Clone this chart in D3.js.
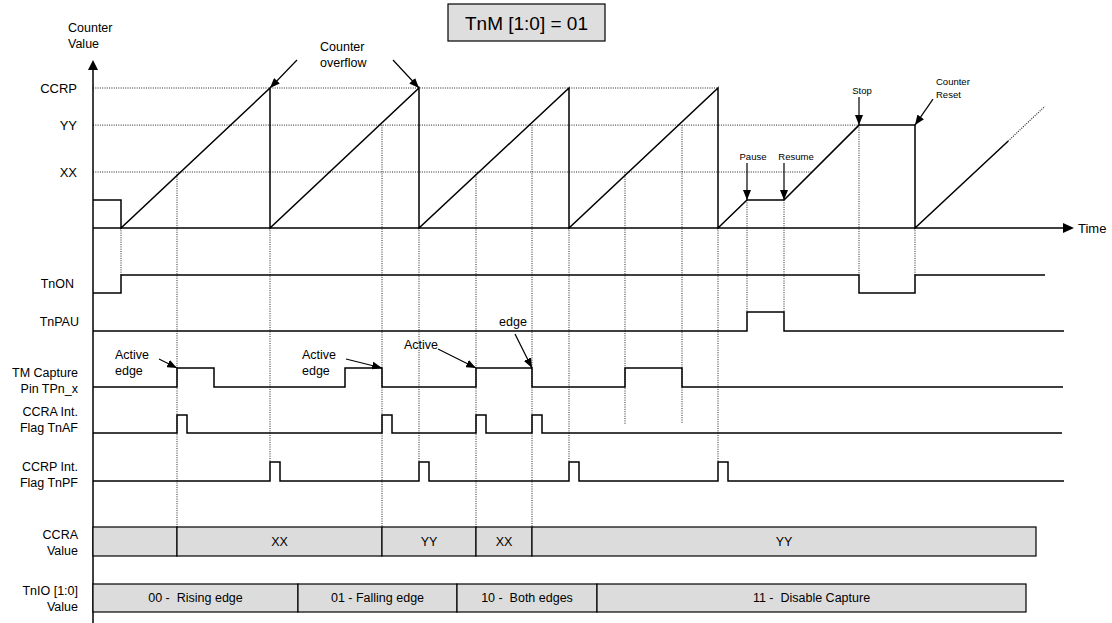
<!DOCTYPE html>
<html><head><meta charset="utf-8">
<script src="https://cdn.jsdelivr.net/npm/d3@7"></script>
<style>
body{margin:0;background:#fff}
svg{display:block}
text{font-family:Arial,"Liberation Sans",sans-serif;fill:#000;white-space:pre}
</style>
</head><body>
<svg id="c" width="1112" height="623"></svg>
<script>
// ---------------- data ----------------
const levelNames  = ["CCRP", "YY", "XX"];
const levelValues = [100, 73.5, 40];
const levelGuideEnd = [625, 766, 718];           // time where each dotted level guide ends

// counter value (time units, counter units)
const counterT = [0, 28, 28, 177, 177, 326, 326, 476, 476, 625, 625, 654, 691, 766, 822, 822, 915];
const counterV = [20, 20, 0, 100, 0, 100, 0, 100, 0, 100, 0, 20, 20, 73.5, 73.5, 0, 62];
const counterDashT = [915, 952];
const counterDashV = [62, 87];

// signals (step values)
const tnonT  = [0, 28, 766, 822, 952];
const tnonV  = [0, 1, 0, 1, 1];
const tnpauT = [0, 654, 691, 971];
const tnpauV = [0, 1, 0, 0];
const capT   = [0, 84, 121, 252, 289, 383, 439, 532, 589, 970];
const capV   = [0, 1, 0, 1, 0, 1, 0, 1, 0, 0];
const tnafPulses = [84, 289, 383, 439];
const tnafEnd = 969;
const tnpfPulses = [177, 326, 476, 625];
const tnpfEnd = 971;
const pulseWidth = 10;

// vertical dotted guides
const guideT   = [28, 84, 177, 289, 326, 383, 439, 476, 532, 589, 625, 654, 691, 766, 822];
const guideV   = [0, 40, 0, 73.5, 0, 40, 73.5, 0, 40, 73.5, 0, 20, 20, 73.5, 0];
const guideTo  = ["tnon","bar","tnpf","bar","tnpf","bar","bar","tnpf","flagMid","flagMid","tnpf","tnpau","tnpau","tnon","tnon"];

// bars
const ccraBounds = [0, 84, 289, 383, 439, 943];
const ccraLabels = ["", "XX", "YY", "XX", "YY"];
const tnioBounds = [0, 205, 364, 504, 933];
const tnioLabels = ["00 -  Rising edge", "01 - Falling edge", "10 -  Both edges", "11 -  Disable Capture"];

// ---------------- layout ----------------
const svg = d3.select("#c");
const x  = d3.scaleLinear().domain([0, 972]).range([93, 1065]);
const yC = d3.scaleLinear().domain([0, 100]).range([228, 88]);
const rows = {
  tnon:  [293, 275],
  tnpau: [331, 312],
  cap:   [387, 368],
  tnaf:  [433, 415],
  tnpf:  [481, 462]
};
const ccraBar = [527, 29];
const tnioBar = [584, 28];
const targetY = { tnon: 275, tnpau: 312, tnpf: 462, flagMid: 424, bar: ccraBar[0] };

const defs = svg.append("defs");
defs.append("marker").attr("id","ah").attr("viewBox","0 0 10 8")
  .attr("refX",10).attr("refY",4).attr("markerUnits","userSpaceOnUse")
  .attr("markerWidth",10).attr("markerHeight",8).attr("orient","auto")
  .append("path").attr("d","M0,0L10,4L0,8Z").attr("fill","#000");

const dotted = g => g.attr("stroke","#222").attr("stroke-width",1).attr("stroke-dasharray","1,1.3").attr("fill","none");

// level guides (horizontal dotted)
levelValues.forEach((v,i)=>{
  svg.append("line").attr("x1",x(0)).attr("x2",x(levelGuideEnd[i]))
    .attr("y1",yC(v)).attr("y2",yC(v)).call(dotted);
});

// vertical guides
guideT.forEach((t,i)=>{
  svg.append("line").attr("x1",x(t)).attr("x2",x(t))
    .attr("y1",yC(guideV[i])).attr("y2",targetY[guideTo[i]]).call(dotted);
});

// axes
svg.append("line").attr("x1",x(0)).attr("x2",x(0)).attr("y1",70).attr("y2",623)
  .attr("stroke","#000").attr("stroke-width",1.5);
svg.append("path").attr("d",`M${x(0)-5},70L${x(0)},60L${x(0)+5},70Z`).attr("fill","#000");
svg.append("line").attr("x1",x(0)).attr("x2",1064).attr("y1",yC(0)).attr("y2",yC(0))
  .attr("stroke","#000").attr("stroke-width",1.5);
svg.append("path").attr("d",`M1063,${yC(0)-5}L1074,${yC(0)}L1063,${yC(0)+5}Z`).attr("fill","#000");
svg.append("text").attr("x",1078).attr("y",yC(0)).attr("dy","0.35em").attr("font-size",13).text("Time");

const yAxis = d3.axisLeft(yC).tickValues(levelValues).tickFormat((d,i)=>levelNames[i]).tickSize(0).tickPadding(16);
const ga = svg.append("g").attr("transform",`translate(${x(0)},0)`).call(yAxis);
ga.select(".domain").remove();
ga.selectAll("text").attr("font-size",13).attr("font-family","Arial,'Liberation Sans',sans-serif");

svg.append("text").attr("x",68).attr("y",28).attr("dy","0.35em").attr("font-size",12.5).text("Counter");
svg.append("text").attr("x",68).attr("y",44).attr("dy","0.35em").attr("font-size",12.5).text("Value");

// counter
const line = d3.line().x(d=>x(d[0])).y(d=>yC(d[1]));
svg.append("path").attr("d", line(counterT.map((t,i)=>[t,counterV[i]])))
  .attr("fill","none").attr("stroke","#000").attr("stroke-width",1.5);
svg.append("path").attr("d", line(counterDashT.map((t,i)=>[t,counterDashV[i]])))
  .call(dotted).attr("stroke-width",1.2);

// signals
function stepSignal(ts, vs, key){
  const [lo, hi] = rows[key];
  const ys = d3.scaleLinear().domain([0,1]).range([lo,hi]);
  const l = d3.line().x(d=>x(d[0])).y(d=>ys(d[1])).curve(d3.curveStepAfter);
  svg.append("path").attr("d", l(ts.map((t,i)=>[t,vs[i]])))
    .attr("fill","none").attr("stroke","#000").attr("stroke-width",1.5);
}
function pulsesToSteps(p, end){
  const ts=[0], vs=[0];
  p.forEach(t=>{ ts.push(t, t+pulseWidth); vs.push(1,0); });
  ts.push(end); vs.push(0);
  return [ts, vs];
}
stepSignal(tnonT, tnonV, "tnon");
stepSignal(tnpauT, tnpauV, "tnpau");
stepSignal(capT, capV, "cap");
const [afT, afV] = pulsesToSteps(tnafPulses, tnafEnd);
stepSignal(afT, afV, "tnaf");
const [pfT, pfV] = pulsesToSteps(tnpfPulses, tnpfEnd);
stepSignal(pfT, pfV, "tnpf");

// row labels
const rowLabels = [
  {lines:["TnON"], y:284, x:74},
  {lines:["TnPAU"], y:322, x:79},
  {lines:["TM Capture","Pin TPn_x"], y:373, x:78},
  {lines:["CCRA Int.","Flag TnAF"], y:412, x:78},
  {lines:["CCRP Int.","Flag TnPF"], y:467, x:78},
  {lines:["CCRA","Value"], y:ccraBar[0]+8, x:78},
  {lines:["TnIO [1:0]","Value"], y:tnioBar[0]+7, x:78}
];
rowLabels.forEach(r=>{
  r.lines.forEach((s,i)=>{
    svg.append("text").attr("x",r.x).attr("y",r.y+i*16).attr("dy","0.35em")
      .attr("text-anchor","end").attr("font-size",12.5).text(s);
  });
});

// bars
function bar(bounds, labels, [y0,h]){
  for(let i=0;i<labels.length;i++){
    const x0=x(bounds[i]), x1=x(bounds[i+1]);
    svg.append("rect").attr("x",x0).attr("y",y0).attr("width",x1-x0).attr("height",h)
      .attr("fill","#dcdcdc").attr("stroke","#000").attr("stroke-width",1.2);
    svg.append("text").attr("x",(x0+x1)/2).attr("y",y0+h/2).attr("dy","0.35em")
      .attr("text-anchor","middle").attr("font-size",12.5).text(labels[i]);
  }
}
bar(ccraBounds, ccraLabels, ccraBar);
bar(tnioBounds, tnioLabels, tnioBar);

// title
svg.append("rect").attr("x",448).attr("y",4).attr("width",157).attr("height",37)
  .attr("fill","#dedede").attr("stroke","#000").attr("stroke-width",1.2);
svg.append("text").attr("x",526.5).attr("y",23).attr("dy","0.35em").attr("text-anchor","middle")
  .attr("font-size",19).text("TnM [1:0] = 01");

// annotations
function arrow(tx, ty, dx, dy){
  svg.append("line").attr("x1",tx+dx).attr("y1",ty+dy).attr("x2",tx).attr("y2",ty)
    .attr("stroke","#000").attr("stroke-width",1.2).attr("marker-end","url(#ah)");
}
function label(lines, lx, ly, size, anchor){
  lines.forEach((s,i)=>svg.append("text").attr("x",lx).attr("y",ly+i*(size+3.5)).attr("dy","0.35em")
    .attr("font-size",size).attr("text-anchor",anchor||"start").text(s));
}
arrow(x(177), yC(100), 27, -28);
arrow(x(326), yC(100), -26, -28);
label(["Counter","overflow"], 320, 47, 12.5);

arrow(x(654), yC(20), 0, -37);
label(["Pause"], 753, 157, 9.5, "middle");
arrow(x(691), yC(20), 0, -37);
label(["Resume"], 796, 157, 9.5, "middle");
arrow(x(766), yC(73.5), 0, -28);
label(["Stop"], 862, 91, 9.5, "middle");
arrow(x(822), yC(73.5), 18, -26);
label(["Counter","Reset"], 936, 82, 9.5);

const capHi = rows.cap[1];
arrow(x(84), capHi, -18, -9);
label(["Active","edge"], 115, 355, 12.5);
arrow(x(289), capHi, -36, -9);
label(["Active","edge"], 302, 355, 12.5);
arrow(x(383), capHi, -38, -19);
label(["Active"], 404, 345, 12.5);
arrow(x(439), capHi, -17, -34);
label(["edge"], 513, 322, 12.5, "middle");
</script>
</body></html>
